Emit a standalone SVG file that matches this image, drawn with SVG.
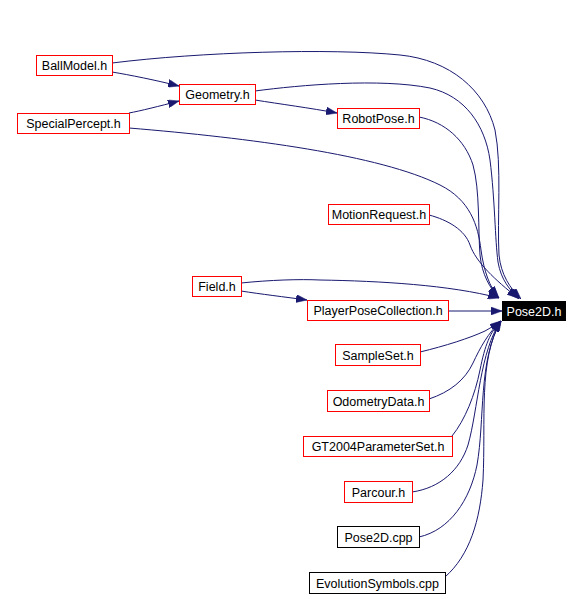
<svg xmlns="http://www.w3.org/2000/svg" width="583" height="599" viewBox="0 0 583 599">
<style>
.n rect{fill:#fff;stroke:#ff0000;stroke-width:1}
.n.b rect{stroke:#000}
.n text{font-family:"Liberation Sans",Arial,sans-serif;font-size:12.5px;text-anchor:middle;fill:#000}
.n.main rect{fill:#000;stroke:#000}
.n.main text{fill:#fff}
.e path{fill:none;stroke:#191970;stroke-width:1;marker-end:url(#ah)}
</style>
<defs>
<marker id="ah" markerUnits="userSpaceOnUse" markerWidth="11" markerHeight="8" refX="11" refY="4" orient="auto">
<path d="M0,0 L11,4 L0,8 z" fill="#191970" stroke="#191970" stroke-width="0.5"/>
</marker>
</defs>
<rect width="583" height="599" fill="#fff"/>
<g id="edges" class="e">
<path d="M112,63 C200,52 330,48 400,55 C450,60 485,90 495,130 C502,165 497,220 499,255 C501,275 510,288 521,299"/>
<path d="M255,91 C300,85 380,78 430,88 C465,96 485,125 490,160 C495,200 495,240 498,262 C501,280 510,290 519,299"/>
<path d="M419,117 C445,122 465,140 473,165 C480,190 478,230 480,255 C482,275 490,288 499,298"/>
<path d="M129,128 C250,138 380,155 440,185 C470,200 478,225 481,250 C484,272 490,287 498,297"/>
<path d="M429,215 C448,220 465,230 470,245 C476,262 495,280 518,298"/>
<path d="M241,283 C270,280 300,279 320,280 C380,281 450,285 499,298"/>
<path d="M241,291 C260,294 285,297 307,300"/>
<path d="M448,311 L502,311"/>
<path d="M112,72 C130,75 155,80 179,86"/>
<path d="M129,113 C140,111 160,106 179,101"/>
<path d="M255,100 C280,104 310,108 337,113"/>
<path d="M420,352 C445,346 470,338 485,331 C492,327 497,324 501,321"/>
<path d="M429,399 C450,392 465,380 473,363 C480,348 488,333 501,321"/>
<path d="M452,436 C465,420 475,395 480,370 C485,345 490,332 501,321"/>
<path d="M412,492 C440,488 460,470 468,445 C478,410 480,350 501,321"/>
<path d="M419,537 C450,530 470,500 477,465 C485,420 478,360 501,321"/>
<path d="M445,577 C470,555 480,520 483,480 C486,420 478,360 501,321"/>
</g>
<g id="BallModel" class="n"><rect x="36.5" y="55.5" width="76" height="20"/><text x="74.5" y="70">BallModel.h</text></g>
<g id="Geometry" class="n"><rect x="179.5" y="84.5" width="76" height="20"/><text x="217.5" y="99">Geometry.h</text></g>
<g id="SpecialPercept" class="n"><rect x="17.5" y="113.5" width="112" height="20"/><text x="73.5" y="128">SpecialPercept.h</text></g>
<g id="RobotPose" class="n"><rect x="337.5" y="108.5" width="82" height="20"/><text x="378.5" y="123">RobotPose.h</text></g>
<g id="MotionRequest" class="n"><rect x="328.5" y="204.5" width="101" height="20"/><text x="379" y="219">MotionRequest.h</text></g>
<g id="Field" class="n"><rect x="192.5" y="276.5" width="49" height="20"/><text x="217" y="291">Field.h</text></g>
<g id="PlayerPoseCollection" class="n"><rect x="307.5" y="300.5" width="141" height="20"/><text x="378" y="315">PlayerPoseCollection.h</text></g>
<g id="Pose2D_h" class="n main"><rect x="502.5" y="301.5" width="63" height="19"/><text x="534" y="316">Pose2D.h</text></g>
<g id="SampleSet" class="n"><rect x="335.5" y="344.5" width="85" height="21"/><text x="378" y="359.5">SampleSet.h</text></g>
<g id="OdometryData" class="n"><rect x="327.5" y="390.5" width="102" height="21"/><text x="378.5" y="405.5">OdometryData.h</text></g>
<g id="GT2004ParameterSet" class="n"><rect x="303.5" y="436.5" width="149" height="20"/><text x="378" y="451">GT2004ParameterSet.h</text></g>
<g id="Parcour" class="n"><rect x="344.5" y="481.5" width="68" height="21"/><text x="378.5" y="496.5">Parcour.h</text></g>
<g id="Pose2D_cpp" class="n b"><rect x="337.5" y="526.5" width="82" height="21"/><text x="378.5" y="541.5">Pose2D.cpp</text></g>
<g id="EvolutionSymbols" class="n b"><rect x="309.5" y="572.5" width="136" height="21"/><text x="377.5" y="587.5">EvolutionSymbols.cpp</text></g>
</svg>
